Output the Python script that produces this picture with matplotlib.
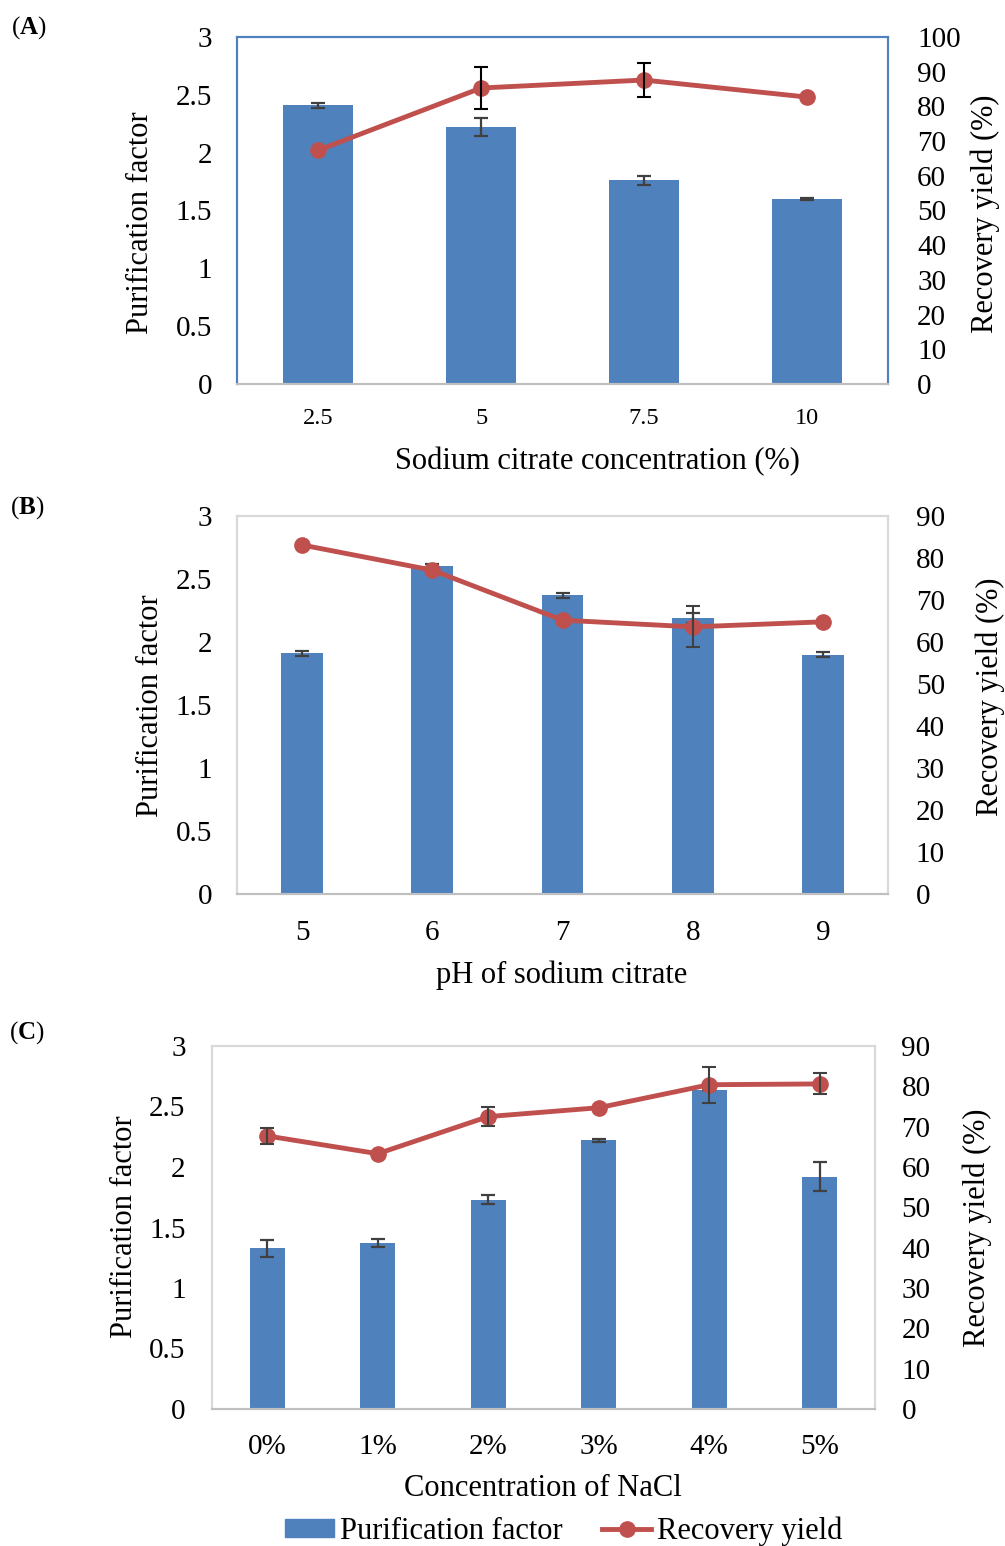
import numpy as np
import matplotlib.pyplot as plt

plt.rcParams['font.family'] = ['Liberation Serif', 'DejaVu Serif']
plt.rcParams['mathtext.fontset'] = 'custom'
plt.rcParams['mathtext.rm'] = 'Liberation Serif'
plt.rcParams['mathtext.bf'] = 'Liberation Serif:bold'

# (A) sodium citrate concentration
conc_labels = ['2.5', '5', '7.5', '10']
conc_pf = [2.41, 2.22, 1.76, 1.60]
conc_pf_err = [0.02, 0.08, 0.04, 0.01]
conc_ry = [67.4, 85.3, 87.6, 82.7]
conc_ry_err = [0, 6.0, 5.0, 0]

# (B) pH of sodium citrate
ph_labels = ['5', '6', '7', '8', '9']
ph_pf = [1.91, 2.60, 2.37, 2.19, 1.90]
ph_pf_err = [0.02, 0.02, 0.02, 0.04, 0.02]
ph_ry = [83.1, 77.1, 65.2, 63.6, 64.8]
ph_ry_err = [0, 0, 0, 4.9, 0]

# (C) NaCl concentration
nacl_labels = ['0%', '1%', '2%', '3%', '4%', '5%']
nacl_pf = [1.33, 1.37, 1.73, 2.22, 2.64, 1.92]
nacl_pf_err = [0.07, 0.035, 0.035, 0.01, 0.0, 0.12]
nacl_ry = [67.7, 63.3, 72.5, 74.7, 80.4, 80.6]
nacl_ry_err = [2.0, 0, 2.3, 0, 4.5, 2.6]

BLUE = '#4f81bd'
RED = '#c0504d'
W, H = 1005, 1546

fig = plt.figure(figsize=(W / 100, H / 100), dpi=100)


def px_axes(left, right, top, bottom):
    return fig.add_axes([left / W, 1 - bottom / H, (right - left) / W, (bottom - top) / H])


def panel(box, labels, pf, pf_err, ry, ry_err, ry_max, bar_w, xfs, xpad, lpad, rpad,
          frame, ry_ecolor):
    ax = px_axes(*box)
    x = np.arange(len(labels))
    ax.bar(x, pf, width=bar_w, color=BLUE, zorder=2)
    ax.errorbar(x, pf, yerr=pf_err, fmt='none', ecolor='#404040', elinewidth=1.6,
                capsize=5, capthick=1.6, zorder=3)
    ax.set_ylim(0, 3)
    ax.set_yticks(np.arange(0, 3.01, 0.5))
    ax.set_yticklabels(['0', '0.5', '1', '1.5', '2', '2.5', '3'])
    ax.set_xlim(-0.5, len(labels) - 0.5)
    ax.set_xticks(x)
    ax.set_xticklabels(labels)
    ax.tick_params(axis='x', length=0, labelsize=xfs, pad=xpad)
    ax.tick_params(axis='y', length=0, labelsize=21, pad=lpad)

    ax2 = ax.twinx()
    ax2.plot(x, ry, color=RED, linewidth=3.5, marker='o', markersize=11, zorder=3)
    e = np.array(ry_err)
    m = e > 0
    ax2.errorbar(x[m], np.array(ry)[m], yerr=e[m], fmt='none', ecolor=ry_ecolor,
                 elinewidth=1.5, capsize=5, capthick=1.5, zorder=4)
    ax2.set_ylim(0, ry_max)
    ax2.set_yticks(np.arange(0, ry_max + 1, 10))
    ax2.tick_params(axis='y', length=0, labelsize=21, pad=rpad)

    for a in (ax, ax2):
        for s in a.spines.values():
            s.set_color(frame)
            s.set_linewidth(1.5)
        a.spines['bottom'].set_color('#bfbfbf')
    return ax, ax2


# panel A
axA, axA2 = panel((237, 888, 37, 384), conc_labels, conc_pf, conc_pf_err, conc_ry, conc_ry_err,
                  100, 0.43, 17.5, 17, 18, 21, BLUE, 'black')
# panel B
axB, axB2 = panel((237, 888, 516, 894), ph_labels, ph_pf, ph_pf_err, ph_ry, ph_ry_err,
                  90, 0.32, 21, 19, 18, 20, '#d9d9d9', '#404040')
# panel C
axC, axC2 = panel((212, 875, 1046, 1409), nacl_labels, nacl_pf, nacl_pf_err, nacl_ry, nacl_ry_err,
                  90, 0.32, 21, 18, 19, 19, '#d9d9d9', '#404040')


def ftext(xp, yp, s, **kw):
    fig.text(xp / W, 1 - yp / H, s, ha='center', va='center', **kw)


# axis titles
ftext(597, 462, 'Sodium citrate concentration (%)', fontsize=22)
ftext(562, 975, 'pH of sodium citrate', fontsize=22)
ftext(543, 1488, 'Concentration of NaCl', fontsize=22)
ftext(140, 223, 'Purification factor', fontsize=22, rotation=90)
ftext(150, 706, 'Purification factor', fontsize=22, rotation=90)
ftext(125, 1227, 'Purification factor', fontsize=22, rotation=90)
ftext(985, 214, 'Recovery yield (%)', fontsize=22, rotation=90)
ftext(990, 697, 'Recovery yield (%)', fontsize=22, rotation=90)
ftext(977, 1228, 'Recovery yield (%)', fontsize=22, rotation=90)

# panel letters
ftext(29, 28, r'($\mathbf{A}$)', fontsize=18)
ftext(27, 508, r'($\mathbf{B}$)', fontsize=18)
ftext(27, 1033, r'($\mathbf{C}$)', fontsize=18)

# legend
h1 = plt.Rectangle((0, 0), 1, 1, color=BLUE)
h2, = axC2.plot([], [], color=RED, linewidth=3.5, marker='o', markersize=11)
fig.legend([h1, h2], ['Purification factor', 'Recovery yield'], ncol=2,
           loc='center', bbox_to_anchor=(564 / W, 1 - 1531 / H), frameon=False,
           fontsize=22, handlelength=1.6, handletextpad=0.2, columnspacing=1.3,
           handleheight=0.55)

plt.savefig('out.png', dpi=100)
